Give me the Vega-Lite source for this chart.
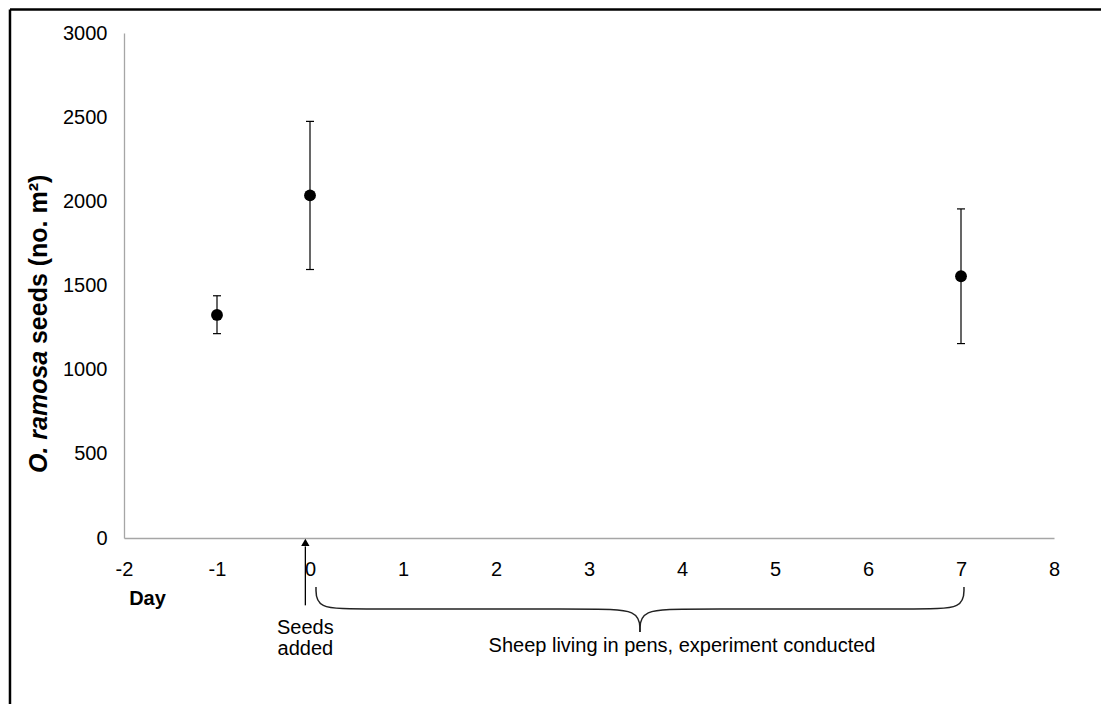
{
  "$schema": "https://vega.github.io/schema/vega-lite/v6.json",
  "autosize": {"type": "none"},
  "width": 930,
  "height": 505,
  "padding": {"left": 124, "top": 33, "right": 47, "bottom": 166},
  "background": "white",
  "config": {
    "view": {"stroke": null},
    "font": "Liberation Sans",
    "axis": {"labelFont": "Liberation Sans", "titleFont": "Liberation Sans"},
    "axisX": {
      "tickCount": 10,
      "labelExpr": "'' + datum.value",
      "grid": false, "ticks": false, "tickSize": 0,
      "domainColor": "#a6a6a6", "domainWidth": 1.3,
      "labelFontSize": 20, "labelColor": "black", "labelPadding": 21,
      "labelFlush": false, "labelOverlap": false,
      "titleFontSize": 20, "titleFontWeight": "bold", "titleColor": "black",
      "titleAlign": "center", "titleBaseline": "alphabetic", "titleX": 23, "titleY": 66
    },
    "axisY": {
      "tickCount": 6,
      "labelExpr": "'' + datum.value",
      "grid": false, "ticks": false, "tickSize": 0,
      "domainColor": "#a6a6a6", "domainWidth": 1.3,
      "labelFontSize": 20, "labelColor": "black", "labelPadding": 17,
      "labelFlush": false, "labelOverlap": false
    }
  },
  "datasets": {
    "pts": [
      {"day": -1, "mean": 1325, "lo": 1214, "hi": 1439},
      {"day": 0, "mean": 2035, "lo": 1595, "hi": 2475},
      {"day": 7, "mean": 1555, "lo": 1155, "hi": 1955}
    ],
    "frame": [
      {"x1": -3.226, "y1": 3140, "x2": -3.226, "y2": -1200},
      {"x1": -3.226, "y1": 3140, "x2": 8.8, "y2": 3140}
    ],
    "brace": [
      {"part": "L", "ord": 1, "day": 0.0645, "v": -291},
      {"part": "L", "ord": 2, "day": 0.0645, "v": -422},
      {"part": "L", "ord": 3, "day": 0.5376, "v": -422},
      {"part": "L", "ord": 4, "day": 3.011, "v": -422},
      {"part": "L", "ord": 5, "day": 3.548, "v": -422},
      {"part": "L", "ord": 6, "day": 3.548, "v": -558},
      {"part": "R", "ord": 1, "day": 3.548, "v": -558},
      {"part": "R", "ord": 2, "day": 3.548, "v": -422},
      {"part": "R", "ord": 3, "day": 4.086, "v": -422},
      {"part": "R", "ord": 4, "day": 6.559, "v": -422},
      {"part": "R", "ord": 5, "day": 7.032, "v": -422},
      {"part": "R", "ord": 6, "day": 7.032, "v": -291}
    ],
    "arrow": [{"day": -0.05, "v1": -400, "v2": -50, "tip": -26}],
    "notes": [
      {"day": -0.05, "v": -532, "label": "Seeds\nadded"},
      {"day": 4.0, "v": -642, "label": "Sheep living in pens, experiment conducted"}
    ],
    "ytitle1": [{"day": -2.914, "v": 386, "label": "O. ramosa"}],
    "ytitle2": [{"day": -2.914, "v": 1152, "label": "seeds (no. m²)"}]
  },
  "layer": [
    {
      "data": {"name": "pts"},
      "mark": {"type": "point", "shape": "circle", "filled": true, "color": "black", "size": 140, "opacity": 1},
      "encoding": {
        "x": {"field": "day", "type": "quantitative", "scale": {"domain": [-2, 8], "nice": false, "zero": false}, "title": "Day"},
        "y": {"field": "mean", "type": "quantitative", "scale": {"domain": [0, 3000], "nice": false}, "title": null}
      }
    },
    {
      "data": {"name": "frame"},
      "mark": {"type": "rule", "stroke": "black", "strokeWidth": 2.5},
      "encoding": {
        "x": {"field": "x1", "type": "quantitative", "scale": {"domain": [-2, 8], "nice": false, "zero": false}, "title": "Day"},
        "y": {"field": "y1", "type": "quantitative", "scale": {"domain": [0, 3000], "nice": false}, "title": null},
        "x2": {"field": "x2"},
        "y2": {"field": "y2"}
      }
    },
    {
      "data": {"name": "pts"},
      "mark": {"type": "rule", "stroke": "black", "strokeWidth": 1.2},
      "encoding": {
        "x": {"field": "day", "type": "quantitative", "scale": {"domain": [-2, 8], "nice": false, "zero": false}, "title": "Day"},
        "y": {"field": "lo", "type": "quantitative", "scale": {"domain": [0, 3000], "nice": false}, "title": null},
        "y2": {"field": "hi"}
      }
    },
    {
      "data": {"name": "pts"},
      "mark": {"type": "tick", "orient": "horizontal", "color": "black", "size": 8, "thickness": 1.2, "opacity": 1},
      "encoding": {
        "x": {"field": "day", "type": "quantitative", "scale": {"domain": [-2, 8], "nice": false, "zero": false}, "title": "Day"},
        "y": {"field": "lo", "type": "quantitative", "scale": {"domain": [0, 3000], "nice": false}, "title": null}
      }
    },
    {
      "data": {"name": "pts"},
      "mark": {"type": "tick", "orient": "horizontal", "color": "black", "size": 8, "thickness": 1.2, "opacity": 1},
      "encoding": {
        "x": {"field": "day", "type": "quantitative", "scale": {"domain": [-2, 8], "nice": false, "zero": false}, "title": "Day"},
        "y": {"field": "hi", "type": "quantitative", "scale": {"domain": [0, 3000], "nice": false}, "title": null}
      }
    },
    {
      "data": {"name": "brace"},
      "mark": {"type": "line", "interpolate": "basis", "stroke": "#222222", "strokeWidth": 1.5},
      "encoding": {
        "x": {"field": "day", "type": "quantitative", "scale": {"domain": [-2, 8], "nice": false, "zero": false}, "title": "Day"},
        "y": {"field": "v", "type": "quantitative", "scale": {"domain": [0, 3000], "nice": false}, "title": null},
        "detail": {"field": "part"},
        "order": {"field": "ord", "type": "quantitative"}
      }
    },
    {
      "data": {"name": "arrow"},
      "mark": {"type": "rule", "stroke": "black", "strokeWidth": 1.3},
      "encoding": {
        "x": {"field": "day", "type": "quantitative", "scale": {"domain": [-2, 8], "nice": false, "zero": false}, "title": "Day"},
        "y": {"field": "v1", "type": "quantitative", "scale": {"domain": [0, 3000], "nice": false}, "title": null},
        "y2": {"field": "v2"}
      }
    },
    {
      "data": {"name": "arrow"},
      "mark": {"type": "point", "shape": "triangle-up", "filled": true, "color": "black", "size": 70, "opacity": 1},
      "encoding": {
        "x": {"field": "day", "type": "quantitative", "scale": {"domain": [-2, 8], "nice": false, "zero": false}, "title": "Day"},
        "y": {"field": "tip", "type": "quantitative", "scale": {"domain": [0, 3000], "nice": false}, "title": null}
      }
    },
    {
      "data": {"name": "notes"},
      "mark": {"type": "text", "fontSize": 20, "color": "black", "align": "center", "baseline": "middle", "lineBreak": "\n", "lineHeight": 21, "font": "Liberation Sans"},
      "encoding": {
        "x": {"field": "day", "type": "quantitative", "scale": {"domain": [-2, 8], "nice": false, "zero": false}, "title": "Day"},
        "y": {"field": "v", "type": "quantitative", "scale": {"domain": [0, 3000], "nice": false}, "title": null},
        "text": {"field": "label"}
      }
    },
    {
      "data": {"name": "ytitle1"},
      "mark": {"type": "text", "fontSize": 25, "fontWeight": "bold", "fontStyle": "italic", "color": "black", "angle": 270, "align": "left", "baseline": "middle", "font": "Liberation Sans"},
      "encoding": {
        "x": {"field": "day", "type": "quantitative", "scale": {"domain": [-2, 8], "nice": false, "zero": false}, "title": "Day"},
        "y": {"field": "v", "type": "quantitative", "scale": {"domain": [0, 3000], "nice": false}, "title": null},
        "text": {"field": "label"}
      }
    },
    {
      "data": {"name": "ytitle2"},
      "mark": {"type": "text", "fontSize": 25, "fontWeight": "bold", "color": "black", "angle": 270, "align": "left", "baseline": "middle", "font": "Liberation Sans"},
      "encoding": {
        "x": {"field": "day", "type": "quantitative", "scale": {"domain": [-2, 8], "nice": false, "zero": false}, "title": "Day"},
        "y": {"field": "v", "type": "quantitative", "scale": {"domain": [0, 3000], "nice": false}, "title": null},
        "text": {"field": "label"}
      }
    }
  ]
}
